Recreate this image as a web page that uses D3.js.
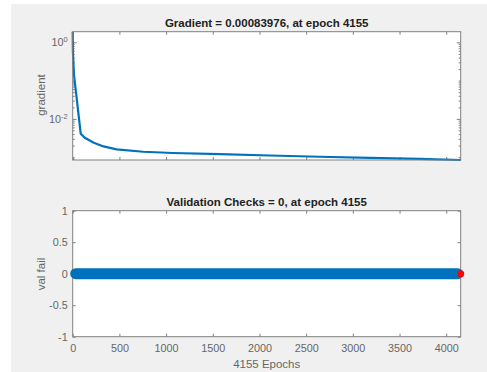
<!DOCTYPE html>
<html>
<head>
<meta charset="utf-8">
<script src="https://cdn.jsdelivr.net/npm/d3@7"></script>
<style>
  body { margin: 0; background: #fff; }
  text { font-family: "Liberation Sans", Arial, sans-serif; }
</style>
</head>
<body>
<svg id="chart" width="487" height="372"></svg>
<script>
// gradient per epoch
const gradEpochs = [0, 2, 14, 50, 86, 130, 220, 330, 470, 755, 1073, 1575, 2110, 2645, 3180, 3717, 4155]
const gradValues = [1.9, 0.6, 0.14, 0.024, 0.0041, 0.0032, 0.0024, 0.0019, 0.0016, 0.00138, 0.00128, 0.00119, 0.0011, 0.00102, 0.00096, 0.0009, 0.00083976]

// validation failures stay at 0 for the whole run
const valEpochs = [0, 500, 1000, 1500, 2000, 2500, 3000, 3500, 4000, 4155]
const valFail = [0, 0, 0, 0, 0, 0, 0, 0, 0, 0]
const bestEpoch = 4155
const bestVal = 0

const xTicks = [0, 500, 1000, 1500, 2000, 2500, 3000, 3500, 4000]
const valTicks = [-1, -0.5, 0, 0.5, 1]
const gradMajor = [1, 0.01]

const titles = ['Gradient = 0.00083976, at epoch 4155', 'Validation Checks = 0, at epoch 4155']

const W = 487, H = 372
const left = 72.7, right = 460.7
const top1 = 31.7, bot1 = 160
const top2 = 210.7, bot2 = 336.7
const blue = '#0072BD'
const axisCol = '#808080'
const labelCol = '#666'

const svg = d3.select('#chart')

svg.append('rect')
  .attr('x', 11).attr('y', 4)
  .attr('width', W - 11).attr('height', H - 4)
  .attr('fill', '#f0f0f0')

const x = d3.scaleLinear().domain([0, 4155]).range([left, right])
const yG = d3.scaleLog().domain([0.00083976, 1.9]).range([bot1, top1])
const yV = d3.scaleLinear().domain([-1, 1]).range([bot2, top2])

function panel(y0, y1) {
  svg.append('rect')
    .attr('x', left).attr('y', y0)
    .attr('width', right - left).attr('height', y1 - y0)
    .attr('fill', '#fff')
}

function styleAxis(g) {
  g.select('.domain').remove()
  g.selectAll('.tick line').attr('stroke', axisCol)
  g.selectAll('.tick text')
    .attr('fill', labelCol)
    .attr('font-size', 10.8)
}

function xAxes(y0, y1, labels) {
  svg.append('g')
    .attr('transform', `translate(0,${y1})`)
    .call(d3.axisBottom(x).tickValues(xTicks).tickSizeInner(-3).tickSizeOuter(0).tickPadding(8)
      .tickFormat(labels ? d3.format('d') : ''))
    .call(styleAxis)
  svg.append('g')
    .attr('transform', `translate(0,${y0})`)
    .call(d3.axisTop(x).tickValues(xTicks).tickSizeInner(-3).tickSizeOuter(0).tickFormat(''))
    .call(styleAxis)
}

function frame(y0, y1) {
  svg.append('rect')
    .attr('x', left).attr('y', y0)
    .attr('width', right - left).attr('height', y1 - y0)
    .attr('fill', 'none')
    .attr('stroke', axisCol)
    .attr('stroke-width', 1)
}

// ---- gradient panel ----
panel(top1, bot1)
xAxes(top1, bot1, false)

const minor = []
for (let e = -4; e <= 0; e++) {
  for (let m = 1; m <= 9; m++) {
    const v = m * Math.pow(10, e)
    if (v >= yG.domain()[0] && v <= yG.domain()[1] && !gradMajor.includes(v)) minor.push(v)
  }
}
svg.append('g').attr('transform', `translate(${left},0)`)
  .call(d3.axisLeft(yG).tickValues(minor).tickSizeInner(-2).tickSizeOuter(0).tickFormat(''))
  .call(styleAxis)
svg.append('g').attr('transform', `translate(${right},0)`)
  .call(d3.axisRight(yG).tickValues(minor).tickSizeInner(-2).tickSizeOuter(0).tickFormat(''))
  .call(styleAxis)
svg.append('g').attr('transform', `translate(${right},0)`)
  .call(d3.axisRight(yG).tickValues(gradMajor).tickSizeInner(-4).tickSizeOuter(0).tickFormat(''))
  .call(styleAxis)
const gmaj = svg.append('g').attr('transform', `translate(${left},0)`)
  .call(d3.axisLeft(yG).tickValues(gradMajor).tickSizeInner(-4).tickSizeOuter(0).tickFormat(''))
  .call(styleAxis)
gmaj.selectAll('.tick').append('text')
  .attr('x', -5).attr('dy', '0.3em')
  .attr('text-anchor', 'end')
  .attr('fill', labelCol)
  .attr('font-size', 10.8)
  .each(function (d) {
    const t = d3.select(this)
    t.append('tspan').text('10')
    t.append('tspan').attr('dy', '-0.5em').attr('font-size', 7.5).text(Math.round(Math.log10(d)))
  })

svg.append('path')
  .datum(gradEpochs.map((e, i) => [e, gradValues[i]]))
  .attr('fill', 'none')
  .attr('stroke', blue)
  .attr('stroke-width', 2.2)
  .attr('d', d3.line().x((d) => x(d[0])).y((d) => yG(d[1])))

frame(top1, bot1)

// ---- validation panel ----
panel(top2, bot2)
xAxes(top2, bot2, true)
svg.append('g').attr('transform', `translate(${left},0)`)
  .call(d3.axisLeft(yV).tickValues(valTicks).tickSizeInner(-3).tickSizeOuter(0).tickPadding(5)
    .tickFormat((d) => String(d)))
  .call(styleAxis)
svg.append('g').attr('transform', `translate(${right},0)`)
  .call(d3.axisRight(yV).tickValues(valTicks).tickSizeInner(-3).tickSizeOuter(0).tickFormat(''))
  .call(styleAxis)

frame(top2, bot2)

svg.append('path')
  .datum(valEpochs.map((e, i) => [e, valFail[i]]))
  .attr('fill', 'none')
  .attr('stroke', blue)
  .attr('stroke-width', 11)
  .attr('stroke-linecap', 'round')
  .attr('d', d3.line().x((d, i) => x(d[0]) + (i === 0 ? 3 : i === valEpochs.length - 1 ? -3 : 0)).y((d) => yV(d[1])))

svg.append('circle')
  .attr('cx', x(bestEpoch)).attr('cy', yV(bestVal))
  .attr('r', 3.5)
  .attr('fill', '#ff0000')

// ---- titles and labels ----
const cx = (left + right) / 2
svg.append('text')
  .attr('x', cx).attr('y', 27)
  .attr('text-anchor', 'middle').attr('font-size', 11.5).attr('font-weight', 'bold').attr('fill', '#222')
  .text(titles[0])
svg.append('text')
  .attr('x', cx).attr('y', 206)
  .attr('text-anchor', 'middle').attr('font-size', 11.5).attr('font-weight', 'bold').attr('fill', '#222')
  .text(titles[1])

svg.append('text')
  .attr('transform', 'translate(45,95) rotate(-90)')
  .attr('text-anchor', 'middle').attr('font-size', 11.5).attr('fill', labelCol)
  .text('gradient')
svg.append('text')
  .attr('transform', 'translate(45,274) rotate(-90)')
  .attr('text-anchor', 'middle').attr('font-size', 11.5).attr('fill', labelCol)
  .text('val fail')
svg.append('text')
  .attr('x', cx).attr('y', 368)
  .attr('text-anchor', 'middle').attr('font-size', 11.5).attr('fill', labelCol)
  .text('4155 Epochs')
</script>
</body>
</html>
